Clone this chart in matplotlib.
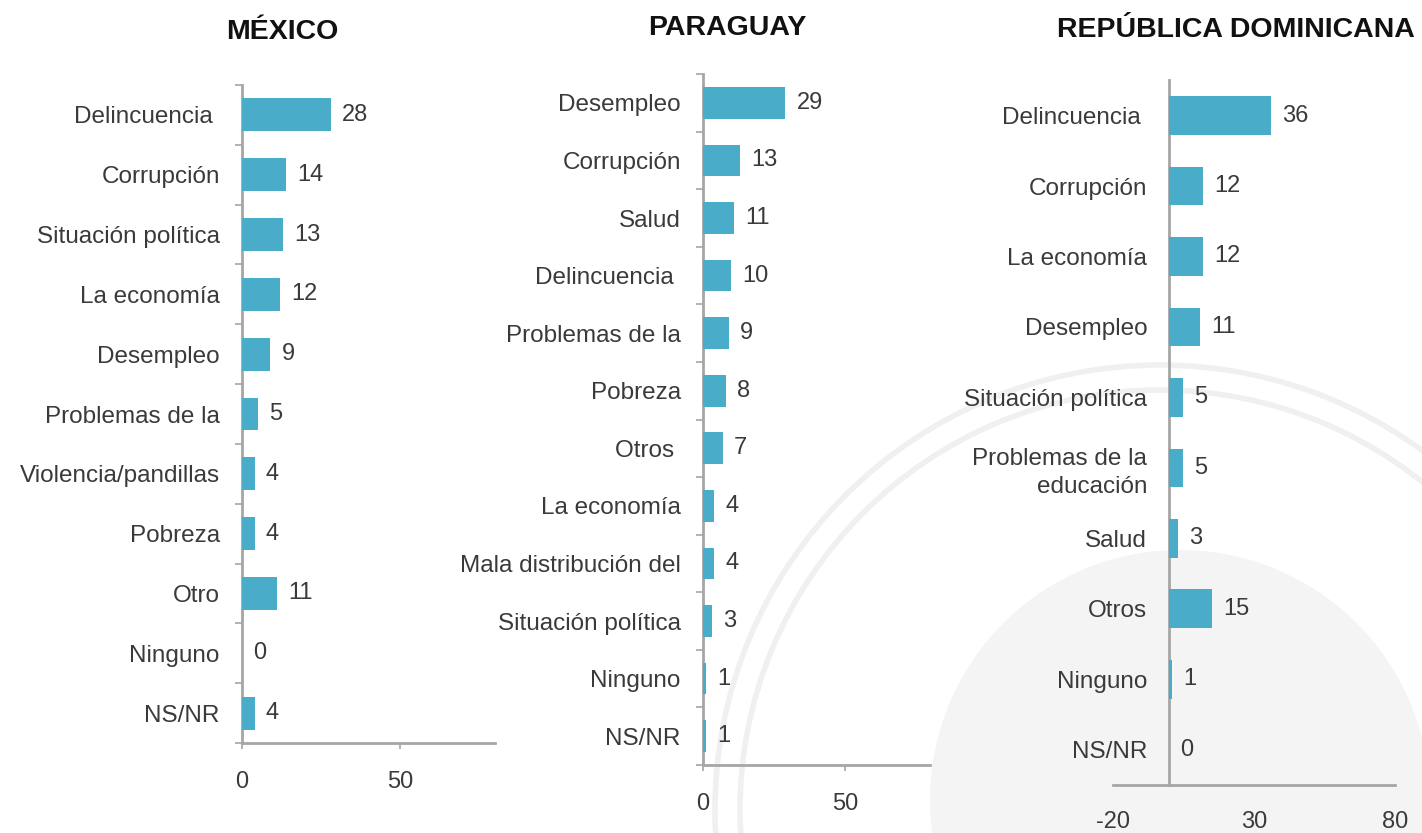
import matplotlib.pyplot as plt
from matplotlib.patches import Circle

plt.rcParams['font.family'] = ['Liberation Sans', 'DejaVu Sans']
plt.rcParams['axes.unicode_minus'] = False

# =====================================================
# Data
# =====================================================

mx_labels = ['Delincuencia ', 'Corrupción', 'Situación política', 'La economía',
             'Desempleo', 'Problemas de la', 'Violencia/pandillas', 'Pobreza',
             'Otro', 'Ninguno', 'NS/NR']
mx_values = [28, 14, 13, 12, 9, 5, 4, 4, 11, 0, 4]

py_labels = ['Desempleo', 'Corrupción', 'Salud', 'Delincuencia ',
             'Problemas de la', 'Pobreza', 'Otros ', 'La economía',
             'Mala distribución del', 'Situación política', 'Ninguno', 'NS/NR']
py_values = [29, 13, 11, 10, 9, 8, 7, 4, 4, 3, 1, 1]

rd_labels = ['Delincuencia ', 'Corrupción', 'La economía', 'Desempleo',
             'Situación política', 'Problemas de la\neducación', 'Salud',
             'Otros', 'Ninguno', 'NS/NR']
rd_values = [36, 12, 12, 11, 5, 5, 3, 15, 1, 0]

titles = ['MÉXICO', 'PARAGUAY', 'REPÚBLICA DOMINICANA']

BAR = '#49adca'
AXIS = '#a6a6a6'
TXT = '#3a3a3a'
FS = 17.5

fig = plt.figure(figsize=(14.22, 8.33), dpi=100)

# faint watermark seal behind the right panels
bg = fig.add_axes([0, 0, 1, 1], zorder=-5)
bg.set_xlim(0, 1422)
bg.set_ylim(833, 0)
bg.axis('off')
bg.add_patch(Circle((1180, 800), 250, color='#f4f4f4', lw=0))
for r in [420, 445]:
    bg.add_patch(Circle((1160, 810), r, fill=False, lw=4, ec='#f0f0f0'))


def panel(rect, labels, values, xlim, xticks, ytick_marks, cross_zero=False):
    ax = fig.add_axes(rect)
    ax.set_facecolor('none')
    if cross_zero:
        ax.spines['left'].set_position(('data', 0))
    n = len(values)
    pos = list(range(n))
    ax.barh(pos, values, height=0.55, color=BAR, zorder=3)
    for p, v in zip(pos, values):
        ax.annotate(str(v), (v, p), xytext=(8, 0), textcoords='offset points',
                    va='center', ha='left', fontsize=17, color=TXT)
    ax.set_ylim(n - 0.5, -0.5)
    ax.set_xlim(*xlim)
    ax.set_xticks(xticks)
    ax.set_yticks(pos)
    ax.set_yticklabels(labels, fontsize=FS, color=TXT, linespacing=1.35)
    ax.tick_params(axis='y', length=0, pad=16)
    if ytick_marks:
        ax.set_yticks([p - 0.5 for p in range(n + 1)], minor=True)
        ax.tick_params(axis='y', which='minor', length=5, color=AXIS, width=1.2)
    ax.tick_params(axis='x', length=4, color=AXIS, width=1.2, pad=16,
                   labelsize=17, labelcolor=TXT)
    for s in ['top', 'right']:
        ax.spines[s].set_visible(False)
    for s in ['left', 'bottom']:
        ax.spines[s].set_color(AXIS)
        ax.spines[s].set_linewidth(2)
    return ax


panel([0.1702, 0.108, 0.178, 0.790], mx_labels, mx_values, (0, 80), [0, 50], True)
panel([0.4944, 0.0816, 0.1596, 0.8295], py_labels, py_values, (0, 80), [0, 50], True)
ax3 = panel([0.7827, 0.0576, 0.1983, 0.846], rd_labels, rd_values, (-20, 80),
            [-20, 30, 80], False, cross_zero=True)
ax3.tick_params(axis='x', length=0, pad=19)

for x, y, t in [(282, 32, titles[0]), (727, 28, titles[1]), (1236, 30, titles[2])]:
    fig.text(x / 1422, 1 - y / 833, t, ha='center', va='center',
             fontsize=20.5, fontweight='bold', color='#111111')

fig.savefig('out.png', dpi=100)
